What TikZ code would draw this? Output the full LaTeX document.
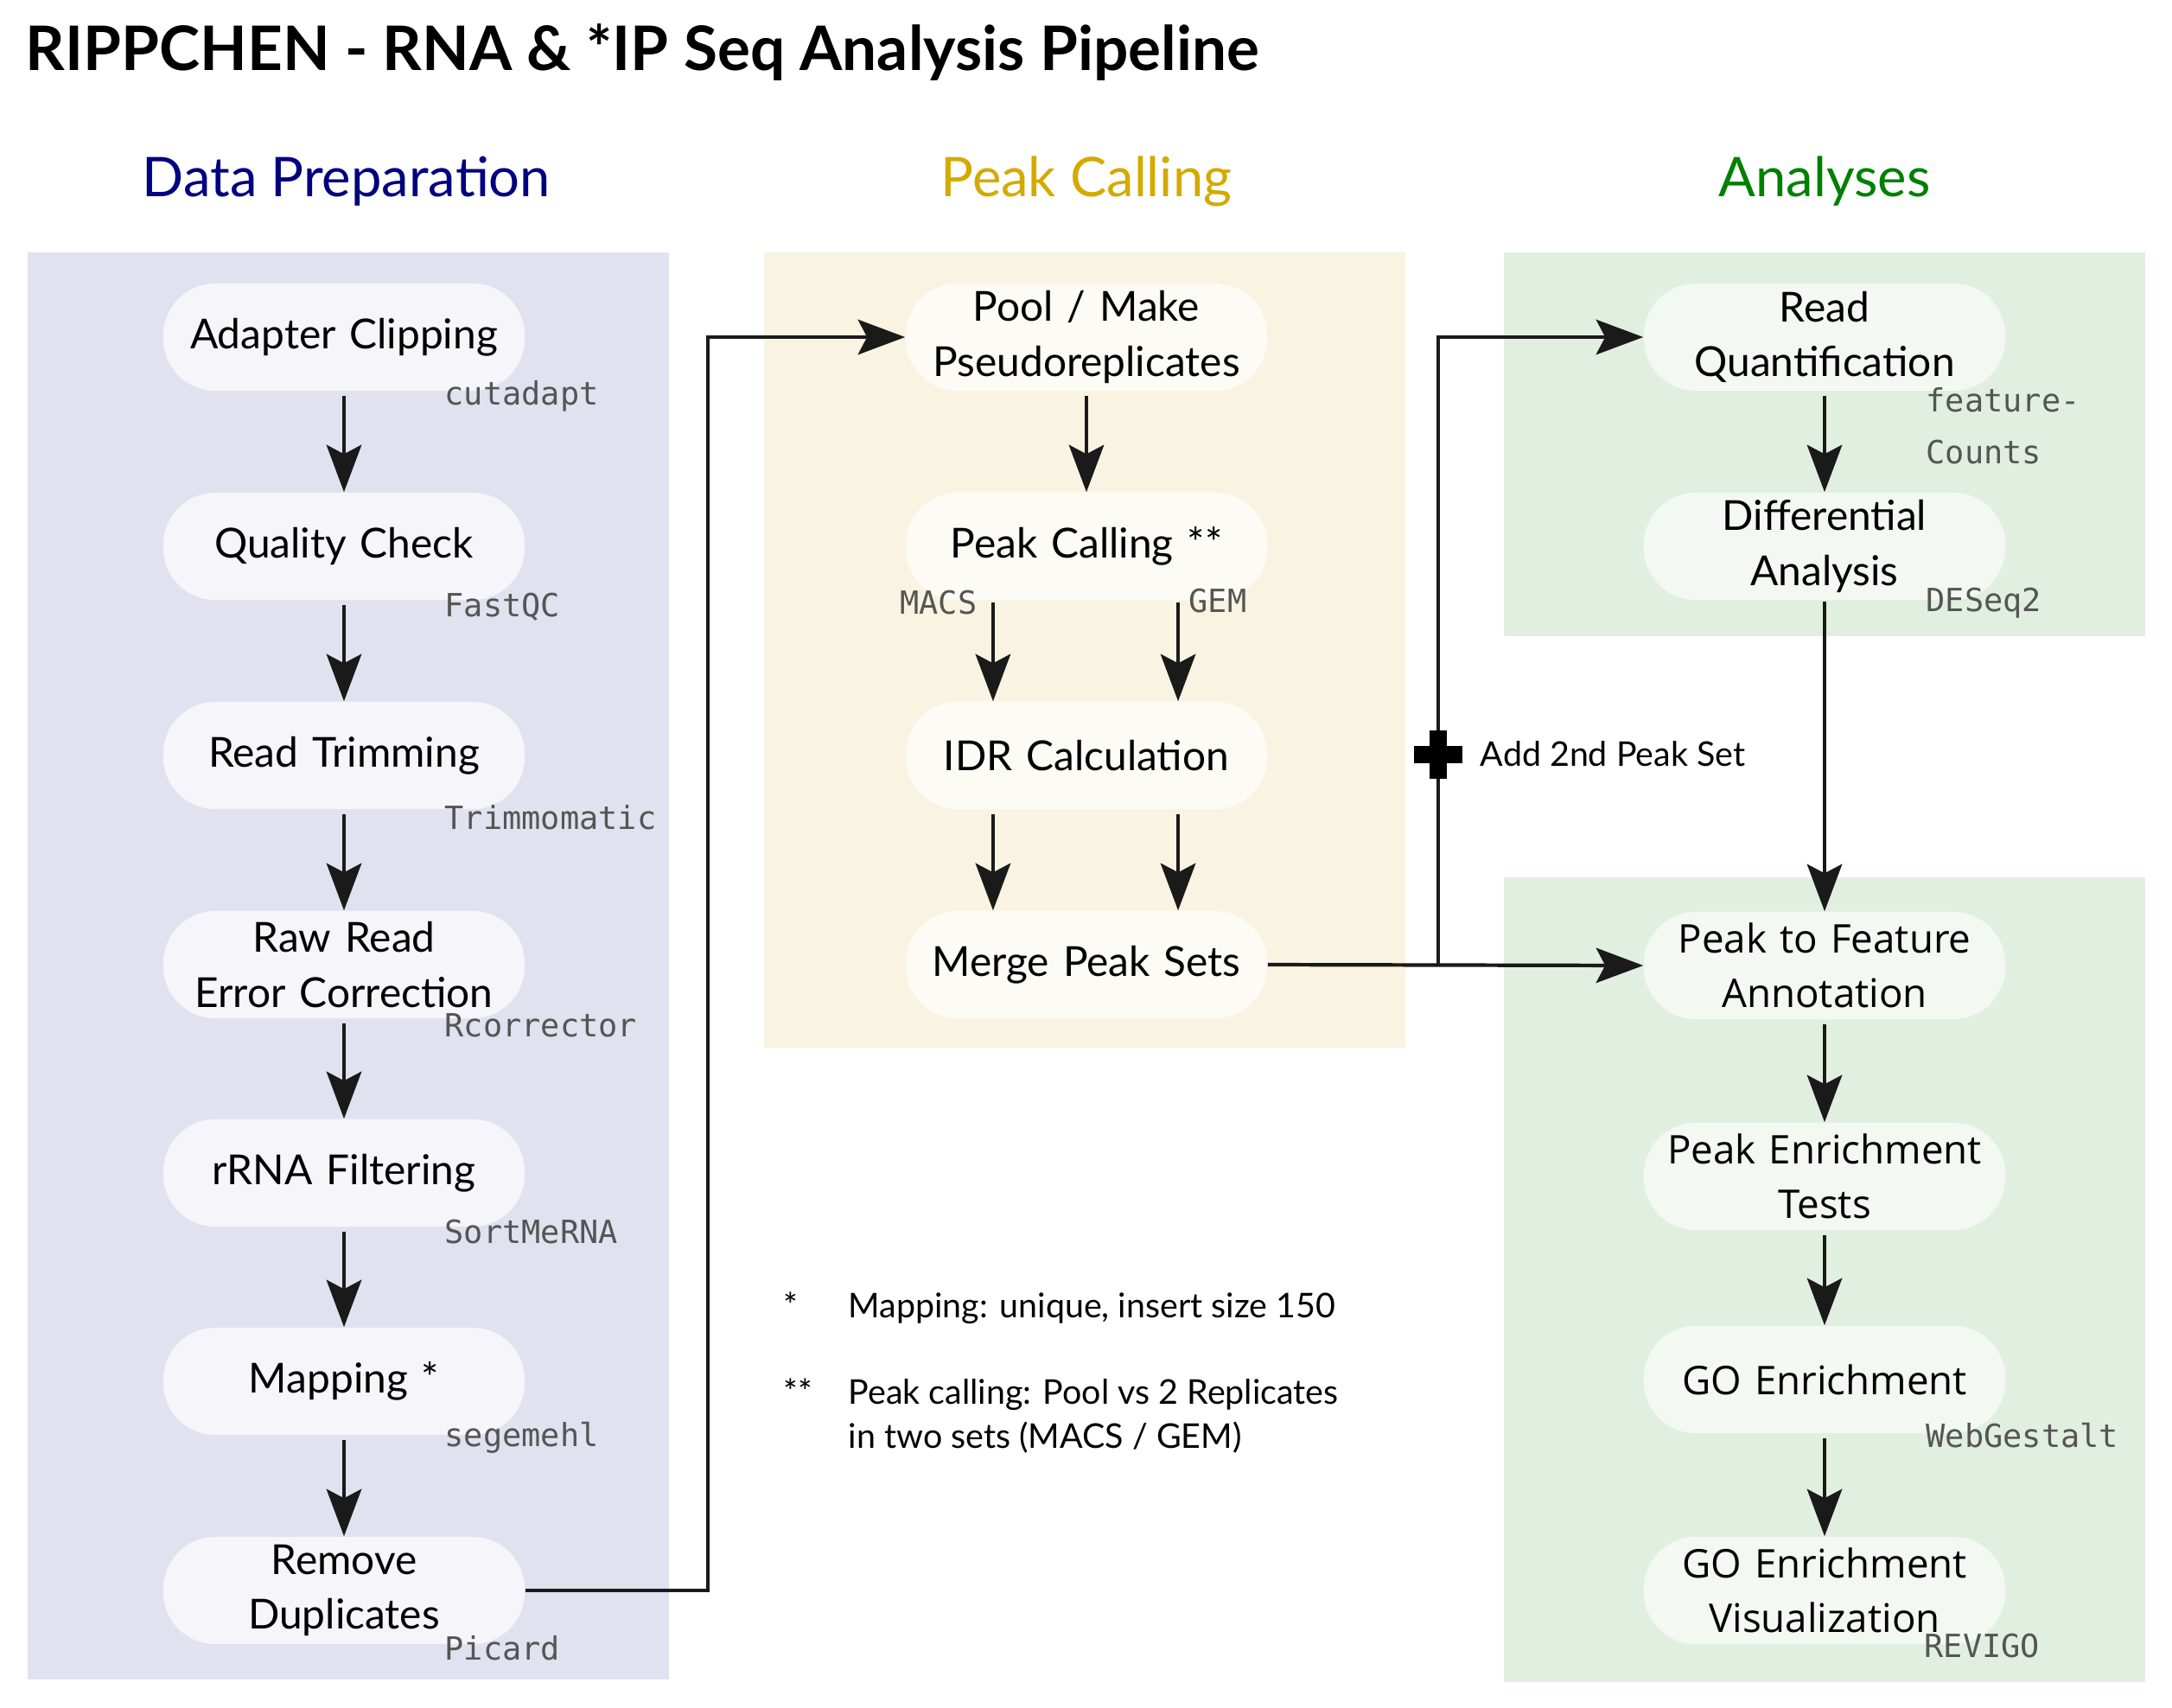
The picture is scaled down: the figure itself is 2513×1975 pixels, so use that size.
\documentclass[tikz,border=0pt]{standalone}
\usepackage{fontspec}
\setmainfont{Lato}
\newfontfamily\openfont{Open Sans}
\setmonofont{DejaVu Sans Mono}
\usetikzlibrary{arrows.meta,calc}
\definecolor{dpbg}{HTML}{E1E1EF}
\definecolor{pcbg}{HTML}{F9F3E1}
\definecolor{anbg}{HTML}{E1EFE1}
\definecolor{dpnode}{HTML}{F5F5FA}
\definecolor{pcnode}{HTML}{FCFBF5}
\definecolor{annode}{HTML}{F3F8F3}
\definecolor{dphead}{HTML}{000080}
\definecolor{pchead}{HTML}{D4AA00}
\definecolor{anhead}{HTML}{008000}
\definecolor{toolgray}{HTML}{555555}
\definecolor{arrowc}{HTML}{1A1A1A}
\begin{document}
\begin{tikzpicture}[x=0.01cm,y=-0.01cm,
  stepnode/.style={rounded corners=0.6cm, minimum width=4.18cm, minimum height=1.24cm,
    align=center, font=\fontsize{13.6}{18}\selectfont, inner sep=0pt, text width=4.1cm},
  opennode/.style={stepnode, font=\openfont\fontsize{13}{18}\selectfont},
  tool/.style={anchor=west, font=\fontsize{10.5}{13}\selectfont\ttfamily, text=toolgray, inner sep=0pt},
  conn/.style={draw=arrowc, line width=1.2pt, -{Stealth[length=15.5pt,width=11.5pt,inset=3pt]}},
  head/.style={font=\fontsize{18}{22}\selectfont, inner sep=0pt},
  fn/.style={font=\fontsize{11.2}{14}\selectfont, inner sep=0pt, anchor=base west},
]
\useasboundingbox (0,0) rectangle (2513,1975);
\fill[white] (0,0) rectangle (2513,1975);

% title
\node[anchor=west, inner sep=0pt, font=\fontsize{20.2}{24}\selectfont\bfseries] (title) at (29,61) {RIPPCHEN - RNA \& *IP Seq Analysis Pipeline};

% headers
\node[head, text=dphead] (h1) at (401,210) {Data Preparation};
\node[head, text=pchead] (h2) at (1257,210) {Peak Calling};
\node[head, text=anhead] (h3) at (2111,210) {Analyses};

% panels
\fill[dpbg] (32,292) rectangle (774,1943);
\fill[pcbg] (884,292) rectangle (1626,1212);
\fill[anbg] (1740,292) rectangle (2482,736);
\fill[anbg] (1740,1015) rectangle (2482,1946);

% data preparation
\node[stepnode, fill=dpnode] (ac) at (398,390) {Adapter Clipping};
\node[stepnode, fill=dpnode] (qc) at (398,632) {Quality Check};
\node[stepnode, fill=dpnode] (rt) at (398,874) {Read Trimming};
\node[stepnode, fill=dpnode] (rr) at (398,1116) {Raw Read\\Error Correction};
\node[stepnode, fill=dpnode] (rf) at (398,1357) {rRNA Filtering};
\node[stepnode, fill=dpnode] (mp) at (398,1598) {Mapping *};
\node[stepnode, fill=dpnode] (rd) at (398,1840) {Remove\\Duplicates};

\node[tool] (t1) at (514,458) {cutadapt};
\node[tool] (t2) at (514,702) {FastQC};
\node[tool] (t3) at (514,946) {Trimmomatic};
\node[tool] (t4) at (514,1186) {Rcorrector};
\node[tool] (t5) at (514,1425) {SortMeRNA};
\node[tool] (t6) at (514,1663) {segemehl};
\node[tool] (t7) at (514,1907) {Picard};

\foreach \a/\b in {ac/qc,qc/rt,rt/rr,rr/rf,rf/mp,mp/rd}
  \draw[conn, shorten <=1.4pt] (\a.south) -- (\b.north);

% peak calling
\node[stepnode, fill=pcnode] (pool) at (1257,390) {Pool / Make\\Pseudoreplicates};
\node[stepnode, fill=pcnode] (pc) at (1257,632) {Peak Calling **};
\node[stepnode, fill=pcnode] (idr) at (1257,874) {IDR Calculation};
\node[stepnode, fill=pcnode] (mg) at (1257,1116) {Merge Peak Sets};

\node[tool, anchor=east] (macs) at (1131,697) {MACS};
\node[tool] (gem) at (1375,695) {GEM};

\draw[conn, shorten <=1.4pt] (pool.south) -- (pc.north);
\draw[conn, shorten <=0.6pt] ([xshift=-1.08cm]pc.south) -- ([xshift=-1.08cm]idr.north);
\draw[conn, shorten <=0.6pt] ([xshift=1.06cm]pc.south) -- ([xshift=1.06cm]idr.north);
\draw[conn, shorten <=1.4pt] ([xshift=-1.08cm]idr.south) -- ([xshift=-1.08cm]mg.north);
\draw[conn, shorten <=1.4pt] ([xshift=1.06cm]idr.south) -- ([xshift=1.06cm]mg.north);

% analyses
\node[stepnode, fill=annode] (rq) at (2111,390) {Read\\Quantification};
\node[stepnode, fill=annode] (da) at (2111,632) {Differential\\Analysis};
\node[opennode, fill=annode] (pf) at (2111,1117) {Peak to Feature\\Annotation};
\node[opennode, fill=annode] (pe) at (2111,1361) {Peak Enrichment\\Tests};
\node[opennode, fill=annode] (go) at (2111,1596) {GO Enrichment};
\node[opennode, fill=annode] (gv) at (2111,1840) {GO Enrichment\\Visualization};

\node[tool] (t8) at (2228,463) {feature-};
\node[tool] (t9) at (2228,523) {Counts};
\node[tool] (t10) at (2228,698) {DESeq2};
\node[tool] (t11) at (2228,1661) {WebGestalt};
\node[tool] (t12) at (2226,1904) {REVIGO};

\draw[conn, shorten <=1.4pt] (rq.south) -- (da.north);
\draw[conn, shorten <=0.4pt] (da.south) -- (pf.north);
\draw[conn, shorten <=1.4pt] (pf.south) -- (pe.north);
\draw[conn, shorten <=1.4pt] (pe.south) -- (go.north);
\draw[conn, shorten <=1.4pt] (go.south) -- (gv.north);

% cross-panel connectors
\coordinate (j1) at (819,1840);
\draw[conn] (rd.east) -- (j1) |- (pool.west);
\draw[conn] (mg.east) -- (pf.west);
\coordinate (j2) at (1664,1116);
\draw[conn] (j2) |- (rq.west);

% plus marker
\fill[black] (1654,845) rectangle (1674,901);
\fill[black] (1636,863) rectangle (1692,883);
\node[anchor=west, inner sep=0pt, font=\fontsize{11.2}{14}\selectfont] (addl) at (1712,872) {Add 2nd Peak Set};

% footnotes
\node[fn] (f1a) at (906,1524) {*};
\node[fn] (f1b) at (981,1524) {Mapping: unique, insert size 150};
\node[fn] (f2a) at (906,1624) {**};
\node[fn] (f2b) at (981,1624) {Peak calling: Pool vs 2 Replicates};
\node[fn] (f2c) at (981,1675) {in two sets (MACS / GEM)};
\end{tikzpicture}
\end{document}
